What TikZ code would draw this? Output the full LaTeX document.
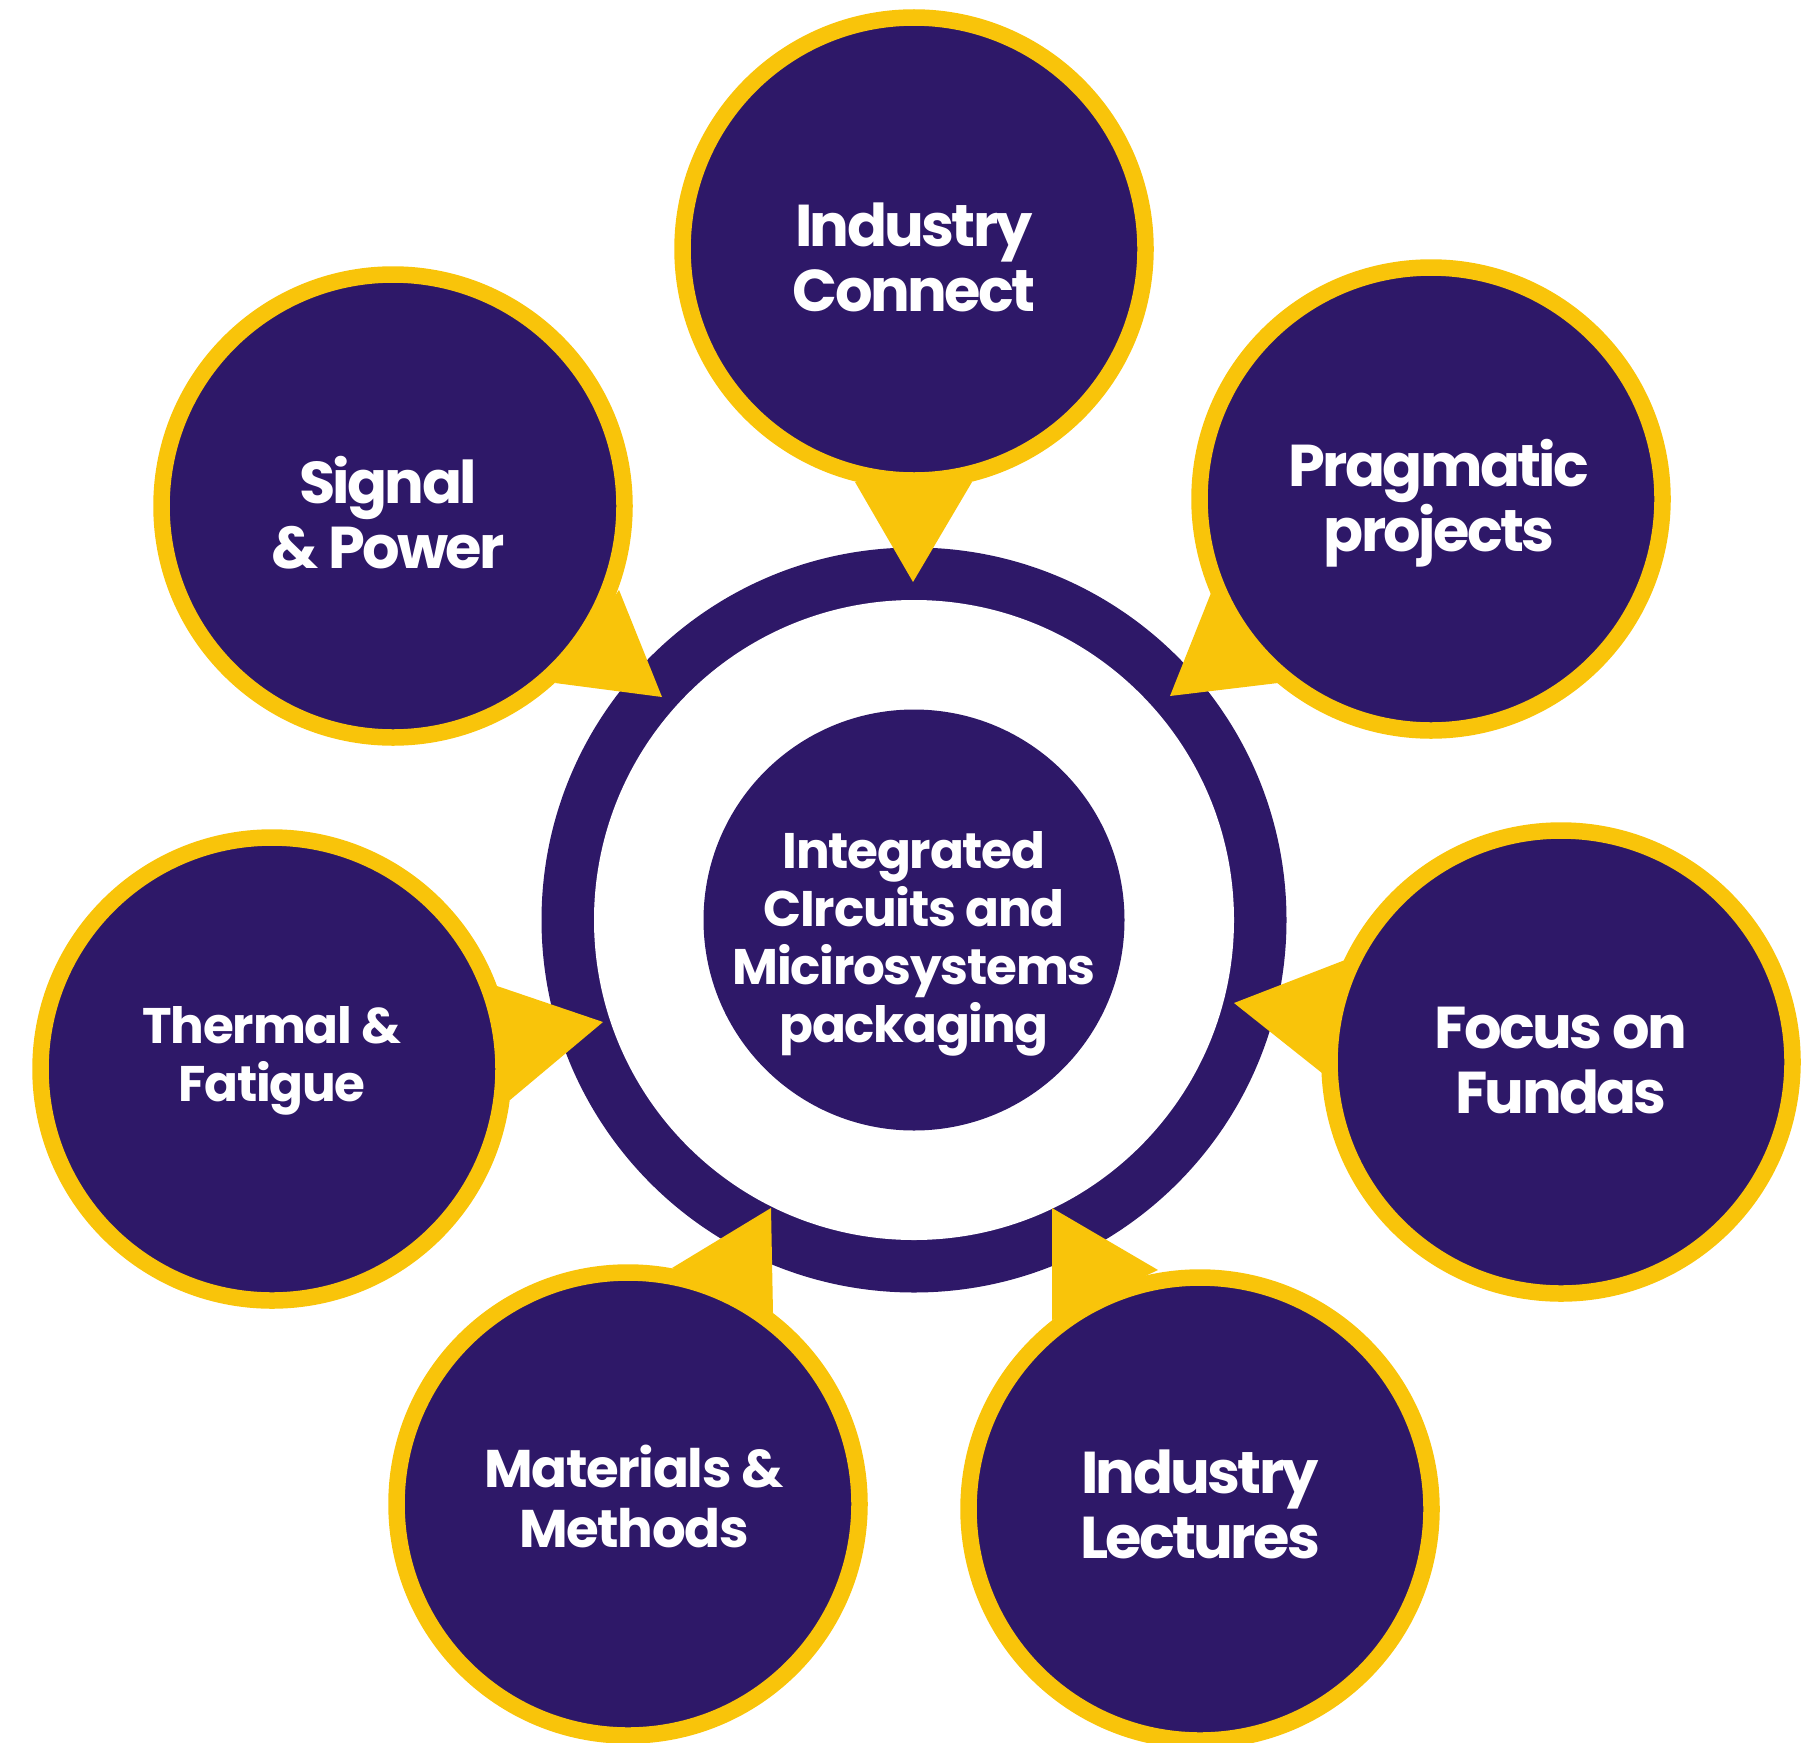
\documentclass[tikz,border=0pt]{standalone}
\usepackage{fontspec}
\setmainfont{Poppins}
\newfontfamily\bigfam{Poppins}[LetterSpace=-4.5]
\newfontfamily\smallfam{Poppins}[LetterSpace=-2.5]
\definecolor{dpurple}{HTML}{2E1868}
\definecolor{gold}{HTML}{F9C40A}
\begin{document}
\begin{tikzpicture}[x=1pt,y=-1pt,
  bubble/.style={circle, draw=gold, line width=16.5pt, fill=dpurple, minimum size=463pt, inner sep=0pt},
  bigtxt/.style={text=white, align=center, font=\bigfam\fontsize{59}{65}\selectfont\bfseries},
  smalltxt/.style={text=white, align=center, font=\smallfam\fontsize{50}{58}\selectfont\bfseries},
  midtxt/.style={text=white, align=center, font=\smallfam\fontsize{53}{60}\selectfont\bfseries},
  pointer/.style={fill=gold}]
\useasboundingbox (0,0) rectangle (1814,1742);
% central ring
\fill[dpurple] (914,920) circle[radius=372.5];
\fill[white] (914,920) circle[radius=320];
\node[circle, fill=dpurple, minimum size=421pt, inner sep=0pt] (hub) at (914,920) {};
\node[smalltxt] (hubtxt) at (914,944) {Integrated\\CIrcuits and\\Micirosystems\\packaging};
% pointers
\coordinate (tipIC) at (913,582);
\coordinate (tipPP) at (1170,696);
\coordinate (tipFF) at (1234,1003);
\coordinate (tipIL) at (1052,1208);
\coordinate (tipMM) at (771,1208);
\coordinate (tipTF) at (603,1022);
\coordinate (tipSP) at (662,697);
\fill[pointer] (855,482) -- (972,482) -- (tipIC) -- cycle;
\fill[pointer] (1211,593) -- (1278,683) -- (tipPP) -- cycle;
\fill[pointer] (1345,960) -- (1322,1073) -- (tipFF) -- cycle;
\fill[pointer] (1158,1270) -- (1052,1320) -- (tipIL) -- cycle;
\fill[pointer] (672,1268) -- (773,1313) -- (tipMM) -- cycle;
\fill[pointer] (497,986) -- (510,1100) -- (tipTF) -- cycle;
\fill[pointer] (619,590) -- (555,683) -- (tipSP) -- cycle;
% bubbles
\node[bubble] (ic) at (914,249) {};
\node[bubble] (pp) at (1431,499) {};
\node[bubble] (ff) at (1561,1062) {};
\node[bubble] (il) at (1200,1509) {};
\node[bubble] (mm) at (628,1504) {};
\node[bubble] (tf) at (272,1069) {};
\node[bubble] (sp) at (393,506) {};
% labels
\node[bigtxt] (icl) at (914,257) {Industry\\Connect};
\node[bigtxt] (ppl) at (1439,503) {Pragmatic\\projects};
\node[bigtxt] (ffl) at (1561,1061) {Focus on\\Fundas};
\node[bigtxt] (ill) at (1200,1504) {Industry\\Lectures};
\node[midtxt] (mml) at (634,1496) {Materials \&\\Methods};
\node[smalltxt] (tfl) at (272,1061) {Thermal \&\\Fatigue};
\node[bigtxt] (spl) at (388,513) {Signal\\\& Power};
\end{tikzpicture}
\end{document}
